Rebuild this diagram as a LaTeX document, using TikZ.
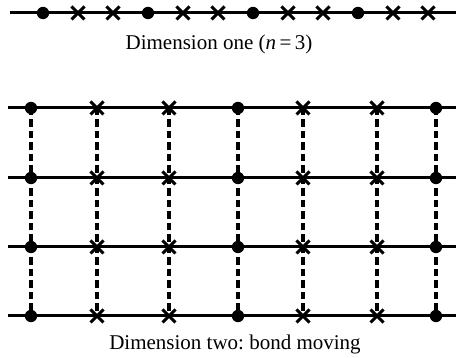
\documentclass[tikz,border=0pt]{standalone}
\usepackage{fontspec}
\setmainfont{Liberation Serif}
\usetikzlibrary{positioning}
\frenchspacing

\tikzset{
  bond/.style={line width=3pt},
  hop/.style={line width=3.2pt, dash pattern=on 7.5pt off 4pt},
  caption/.style={anchor=base, inner sep=0pt, font=\fontsize{21}{25}\selectfont},
  xsite/.pic={\draw[line width=3pt] (-6.5,-6.5) -- (6.5,6.5) (-6.5,6.5) -- (6.5,-6.5);},
  osite/.pic={\fill (0,0) circle (6.2);},
}

\begin{document}
\begin{tikzpicture}[x=1pt,y=-1pt]
  \useasboundingbox (0,0) rectangle (456,358);
  % dimension one
  \draw[bond] (10,13) -- (456,13);
  \foreach \k in {0,...,3} {
    \pic at ({43+105*\k},13) {osite};
    \pic at ({78+105*\k},13) {xsite};
    \pic at ({113+105*\k},13) {xsite};
  }
  \node[caption] (capone) at (219,50) {Dimension one (\textit{n}\,=\,3)};
  % dimension two
  \foreach \c in {31,97,169,238,303,377,436}
    \draw[hop] (\c,108) -- (\c,316);
  \foreach \r in {108,178,247,316} {
    \draw[bond] (8,\r) -- (456,\r);
    \foreach \c/\s in {31/osite,97/xsite,169/xsite,238/osite,303/xsite,377/xsite,436/osite}
      \pic at (\c,\r) {\s};
  }
  \node[caption] (captwo) at (235,350) {Dimension two: bond moving};
\end{tikzpicture}
\end{document}
